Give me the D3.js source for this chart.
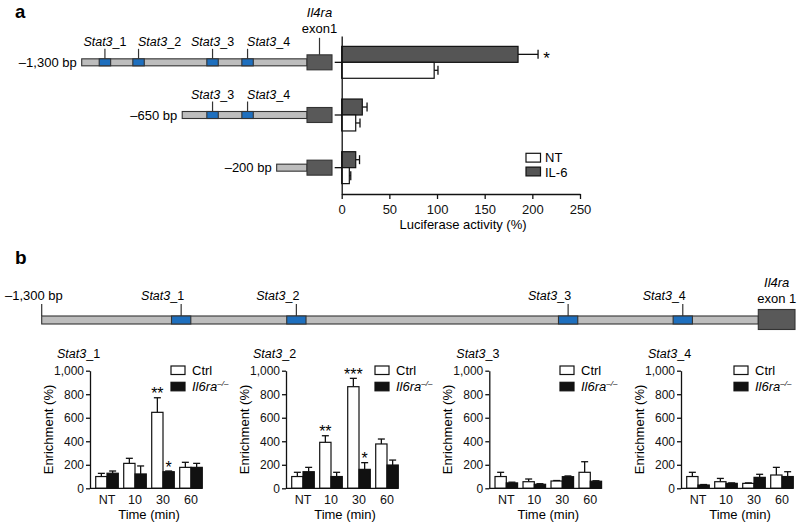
<!DOCTYPE html>
<html><head><meta charset="utf-8">
<script src="https://cdn.jsdelivr.net/npm/d3@7"></script>
<style>body{margin:0;background:#fff} svg{display:block;font-family:"Liberation Sans",Arial,Helvetica,sans-serif}</style>
</head><body><svg id="c" width="800" height="526"></svg>
<script>
// ---------- data ----------
const constructs = ["–1,300 bp", "–650 bp", "–200 bp"];
const constructStartA = [-1300, -720, -175];       // schematic start (bp) of each reporter
const siteNames = ["1", "2", "3", "4"];
const sitePosA = [-1166, -972, -545, -343];         // Stat3 sites, panel a schematic (bp)
const siteLabelAnchorA = ["middle", "start", "middle", "start"];
const sitePosB = [-1047, -838, -345, -137];         // Stat3 sites, panel b schematic (bp)
const conditions = ["IL-6", "NT"];
const ntMean = [97, 14.7, 8];
const ntErr = [4, 4.5, 1.5];
const il6Mean = [185, 21.6, 14.7];
const il6Err = [21, 5, 4];
const il6Sig = ["*", "", ""];
const lucTicks = [0, 50, 100, 150, 200, 250];

const times = ["NT", "10", "30", "60"];
const enrichTicks = [0, 200, 400, 600, 800, 1000];
const ctrlMean = [[100, 212, 646, 178], [100, 391, 864, 377], [100, 56, 62, 136], [100, 56, 42, 113]];
const ctrlErr  = [[27, 43, 124, 43], [36, 56, 71, 42], [36, 23, 4, 90], [36, 28, 4, 65]];
const koMean   = [[128, 122, 141, 178], [141, 100, 161, 198], [46, 34, 99, 60], [28, 42, 93, 100]];
const koErr    = [[19, 68, 6, 34], [37, 36, 57, 42], [6, 5, 6, 4], [4, 4, 26, 41]];
const ctrlSig  = [["", "", "**", ""], ["", "**", "***", ""], ["", "", "", ""], ["", "", "", ""]];
const koSig    = [["", "", "*", ""], ["", "", "*", ""], ["", "", "", ""], ["", "", "", ""]];

// ---------- style ----------
const C = {grey: "#bdbdbd", edge: "#333", blue: "#1e6fbe", exon: "#595959", il6: "#555", ink: "#111"};
const svg = d3.select("#c");

function stat3Label(sel, n) {
  sel.append("tspan").attr("font-style", "italic").text("Stat3");
  sel.append("tspan").text("_" + n);
}

// panel letters
svg.append("text").attr("x", 15).attr("y", 17.5).attr("font-size", 18.5).attr("font-weight", "bold").text("a");
svg.append("text").attr("x", 15).attr("y", 264).attr("font-size", 19).attr("font-weight", "bold").text("b");

// ---------- panel a ----------
const yA = d3.scaleBand().domain(constructs).range([36, 194]);
const ySub = d3.scaleBand().domain(conditions).range([0, yA.bandwidth()]).paddingOuter(0.65);
const xA = d3.scaleLinear().domain([0, 250]).range([341.7, 580]);
const bpA = d3.scaleLinear().domain([-1300, 0]).range([81.7, 307]);
const siteHalfA = 33, exonWA = 25;

const diagA = svg.append("g");
constructs.forEach((c, i) => {
  const cy = yA(c) + yA.bandwidth() / 2;
  const start = constructStartA[i];
  diagA.append("rect").attr("x", bpA(start)).attr("y", cy - 3.5).attr("width", bpA(0) - bpA(start)).attr("height", 7)
    .attr("fill", C.grey).attr("stroke", C.edge).attr("stroke-width", 1.1);
  sitePosA.forEach((p, j) => {
    if (p - siteHalfA <= start) return;
    diagA.append("rect").attr("x", bpA(p - siteHalfA)).attr("y", cy - 3.5)
      .attr("width", bpA(p + siteHalfA) - bpA(p - siteHalfA)).attr("height", 7)
      .attr("fill", C.blue).attr("stroke", C.edge).attr("stroke-width", 1.1);
    diagA.append("line").attr("x1", bpA(p)).attr("x2", bpA(p)).attr("y1", cy - 3.5).attr("y2", cy - 13.5)
      .attr("stroke", C.edge).attr("stroke-width", 1.2);
    const anc = siteLabelAnchorA[j];
    const t = diagA.append("text").attr("x", bpA(p) + (anc === "start" ? -0.5 : 0)).attr("y", cy - 16.5)
      .attr("text-anchor", anc).attr("font-size", 12.5);
    stat3Label(t, siteNames[j]);
  });
  diagA.append("rect").attr("x", bpA(0)).attr("y", cy - 7.5).attr("width", exonWA).attr("height", 15)
    .attr("fill", C.exon).attr("stroke", C.edge).attr("stroke-width", 1.1);
  diagA.append("text").attr("x", bpA(start) - 5).attr("y", cy + 4.5).attr("text-anchor", "end").attr("font-size", 13).text(c);
  if (i === 0) {
    const ex = bpA(0) + exonWA / 2;
    diagA.append("line").attr("x1", ex).attr("x2", ex).attr("y1", cy - 7.5).attr("y2", cy - 24.5)
      .attr("stroke", C.edge).attr("stroke-width", 1.2);
    diagA.append("text").attr("x", ex).attr("y", cy - 29.5).attr("text-anchor", "middle").attr("font-size", 13).text("exon1");
    diagA.append("text").attr("x", ex).attr("y", cy - 45).attr("text-anchor", "middle").attr("font-size", 13)
      .attr("font-style", "italic").text("Il4ra");
  }
});

// bars panel a
const barA = svg.append("g");
const seriesA = [{k: "IL-6", m: il6Mean, e: il6Err, fill: C.il6, sig: il6Sig}, {k: "NT", m: ntMean, e: ntErr, fill: "#fff", sig: ["", "", ""]}];
seriesA.forEach(s => {
  constructs.forEach((c, i) => {
    const y0 = yA(c) + ySub(s.k), h = ySub.bandwidth(), cy = y0 + h / 2;
    barA.append("rect").attr("x", xA(0)).attr("y", y0).attr("width", xA(s.m[i]) - xA(0)).attr("height", h)
      .attr("fill", s.fill).attr("stroke", C.ink).attr("stroke-width", 1.2);
    barA.append("line").attr("x1", xA(s.m[i])).attr("x2", xA(s.m[i] + s.e[i])).attr("y1", cy).attr("y2", cy)
      .attr("stroke", C.ink).attr("stroke-width", 1.3);
    barA.append("line").attr("x1", xA(s.m[i] + s.e[i])).attr("x2", xA(s.m[i] + s.e[i])).attr("y1", cy - 4.5).attr("y2", cy + 4.5)
      .attr("stroke", C.ink).attr("stroke-width", 1.3);
    if (s.sig[i]) barA.append("text").attr("x", xA(s.m[i] + s.e[i]) + 8.5).attr("y", cy + 10).attr("text-anchor", "middle")
      .attr("font-size", 17).text(s.sig[i]);
  });
});
const gxA = svg.append("g").attr("transform", "translate(0,194)")
  .call(d3.axisBottom(xA).tickValues(lucTicks).tickSize(5).tickPadding(6).tickSizeOuter(0));
gxA.selectAll("text").attr("font-size", 13).attr("font-family", null).attr("fill", C.ink);
const gyA = svg.append("g").attr("transform", `translate(${xA(0)},0)`)
  .call(d3.axisLeft(yA).tickSize(7).tickFormat("").tickSizeOuter(0));
[gxA, gyA].forEach(g => { g.selectAll("path,line").attr("stroke", C.ink).attr("stroke-width", 1.3); });
svg.append("text").attr("x", 463).attr("y", 229).attr("text-anchor", "middle").attr("font-size", 13).text("Luciferase activity (%)");

// legend a
const legA = [{k: "NT", fill: "#fff"}, {k: "IL-6", fill: C.il6}];
legA.forEach((d, i) => {
  svg.append("rect").attr("x", 526).attr("y", 153.3 + i * 13.8).attr("width", 14.5).attr("height", 8.8)
    .attr("fill", d.fill).attr("stroke", C.ink).attr("stroke-width", 1.2);
  svg.append("text").attr("x", 545).attr("y", 162 + i * 14.5).attr("font-size", 13).text(d.k);
});

// ---------- panel b diagram ----------
const bpB = d3.scaleLinear().domain([-1300, 0]).range([41.7, 758.3]);
const siteHalfB = 17.5, cyB = 320;
const diagB = svg.append("g");
diagB.append("rect").attr("x", bpB(-1300)).attr("y", cyB - 4).attr("width", bpB(0) - bpB(-1300)).attr("height", 8)
  .attr("fill", C.grey).attr("stroke", C.edge).attr("stroke-width", 1.1);
diagB.append("line").attr("x1", bpB(-1300)).attr("x2", bpB(-1300)).attr("y1", cyB - 4).attr("y2", cyB - 16)
  .attr("stroke", C.edge).attr("stroke-width", 1.2);
diagB.append("text").attr("x", 5).attr("y", 300).attr("font-size", 13).text("–1,300 bp");
sitePosB.forEach((p, j) => {
  diagB.append("rect").attr("x", bpB(p - siteHalfB)).attr("y", cyB - 4).attr("width", bpB(p + siteHalfB) - bpB(p - siteHalfB)).attr("height", 8)
    .attr("fill", C.blue).attr("stroke", C.edge).attr("stroke-width", 1.1);
  diagB.append("line").attr("x1", bpB(p)).attr("x2", bpB(p)).attr("y1", cyB - 4).attr("y2", cyB - 16)
    .attr("stroke", C.edge).attr("stroke-width", 1.2);
  const t = diagB.append("text").attr("x", bpB(p) + 3).attr("y", 300).attr("text-anchor", "end").attr("font-size", 12.5);
  stat3Label(t, siteNames[j]);
});
diagB.append("rect").attr("x", bpB(0)).attr("y", cyB - 10.5).attr("width", 36.7).attr("height", 20)
  .attr("fill", C.exon).attr("stroke", C.edge).attr("stroke-width", 1.1);
diagB.append("text").attr("x", bpB(0) + 18.4).attr("y", 286.7).attr("text-anchor", "middle").attr("font-size", 13)
  .attr("font-style", "italic").text("Il4ra");
diagB.append("text").attr("x", bpB(0) + 18.4).attr("y", 303.3).attr("text-anchor", "middle").attr("font-size", 13).text("exon 1");

// ---------- panel b charts ----------
const chartAxisX = [90, 286, 489.3, 681];
const legendX = [171, 375, 560, 734];
const yE = d3.scaleLinear().domain([0, 1000]).range([488.3, 370.7]);

function koLabel(sel) {
  sel.append("tspan").attr("font-style", "italic").text("Il6ra");
  sel.append("tspan").attr("font-size", 8).attr("dy", -5).attr("font-style", "italic").text("–/–");
}

chartAxisX.forEach((ax, k) => {
  const g = svg.append("g");
  const xT = d3.scaleBand().domain(times).range([ax + 3, ax + 115]);
  const xS = d3.scaleBand().domain(["ctrl", "ko"]).range([0, xT.bandwidth()]).paddingOuter(0.24);
  const series = [
    {k: "ctrl", m: ctrlMean[k], e: ctrlErr[k], sig: ctrlSig[k], fill: "#fff"},
    {k: "ko", m: koMean[k], e: koErr[k], sig: koSig[k], fill: C.ink}
  ];
  series.forEach(s => {
    times.forEach((t, i) => {
      const x0 = xT(t) + xS(s.k), w = xS.bandwidth(), cx = x0 + w / 2;
      g.append("line").attr("x1", cx).attr("x2", cx).attr("y1", yE(s.m[i])).attr("y2", yE(s.m[i] + s.e[i]))
        .attr("stroke", C.ink).attr("stroke-width", 1.3);
      g.append("line").attr("x1", cx - 3.5).attr("x2", cx + 3.5).attr("y1", yE(s.m[i] + s.e[i])).attr("y2", yE(s.m[i] + s.e[i]))
        .attr("stroke", C.ink).attr("stroke-width", 1.3);
      g.append("rect").attr("x", x0).attr("y", yE(s.m[i])).attr("width", w).attr("height", yE(0) - yE(s.m[i]))
        .attr("fill", s.fill).attr("stroke", C.ink).attr("stroke-width", 1.2);
      if (s.sig[i]) g.append("text").attr("x", cx).attr("y", yE(s.m[i] + s.e[i]) + 1.5).attr("text-anchor", "middle")
        .attr("font-size", 16).text(s.sig[i]);
    });
  });
  const gy = g.append("g").attr("transform", `translate(${ax},0)`)
    .call(d3.axisLeft(yE).tickValues(enrichTicks).tickFormat(d3.format(",")).tickSize(4).tickPadding(2).tickSizeOuter(0));
  gy.selectAll("text").attr("font-size", 12).attr("font-family", null).attr("fill", C.ink);
  gy.selectAll("path,line").attr("stroke", C.ink).attr("stroke-width", 1.3);
  const gx = g.append("g").attr("transform", `translate(0,${yE(0)})`)
    .call(d3.axisBottom(xT).tickSize(0).tickPadding(6.5));
  gx.select(".domain").remove();
  gx.selectAll("text").attr("font-size", 12.5).attr("font-family", null).attr("fill", C.ink);
  g.append("line").attr("x1", ax).attr("x2", ax + 112).attr("y1", yE(0)).attr("y2", yE(0))
    .attr("stroke", C.ink).attr("stroke-width", 1.3);
  g.append("text").attr("transform", `translate(${ax - 37},${(yE(0) + yE(1000)) / 2}) rotate(-90)`)
    .attr("text-anchor", "middle").attr("font-size", 13).text("Enrichment (%)");
  g.append("text").attr("x", ax + 59).attr("y", 519).attr("text-anchor", "middle").attr("font-size", 13).text("Time (min)");
  const tt = g.append("text").attr("x", ax - 33).attr("y", 358).attr("font-size", 12.5);
  stat3Label(tt, siteNames[k]);
  // legend
  const lx = legendX[k];
  g.append("rect").attr("x", lx).attr("y", 366).attr("width", 14).attr("height", 8.5)
    .attr("fill", "#fff").attr("stroke", C.ink).attr("stroke-width", 1.2);
  g.append("rect").attr("x", lx).attr("y", 382.3).attr("width", 14).attr("height", 8.5)
    .attr("fill", C.ink).attr("stroke", C.ink).attr("stroke-width", 1.2);
  g.append("text").attr("x", lx + 21).attr("y", 375).attr("font-size", 13).text("Ctrl");
  koLabel(g.append("text").attr("x", lx + 21).attr("y", 391).attr("font-size", 13));
});
</script></body></html>
